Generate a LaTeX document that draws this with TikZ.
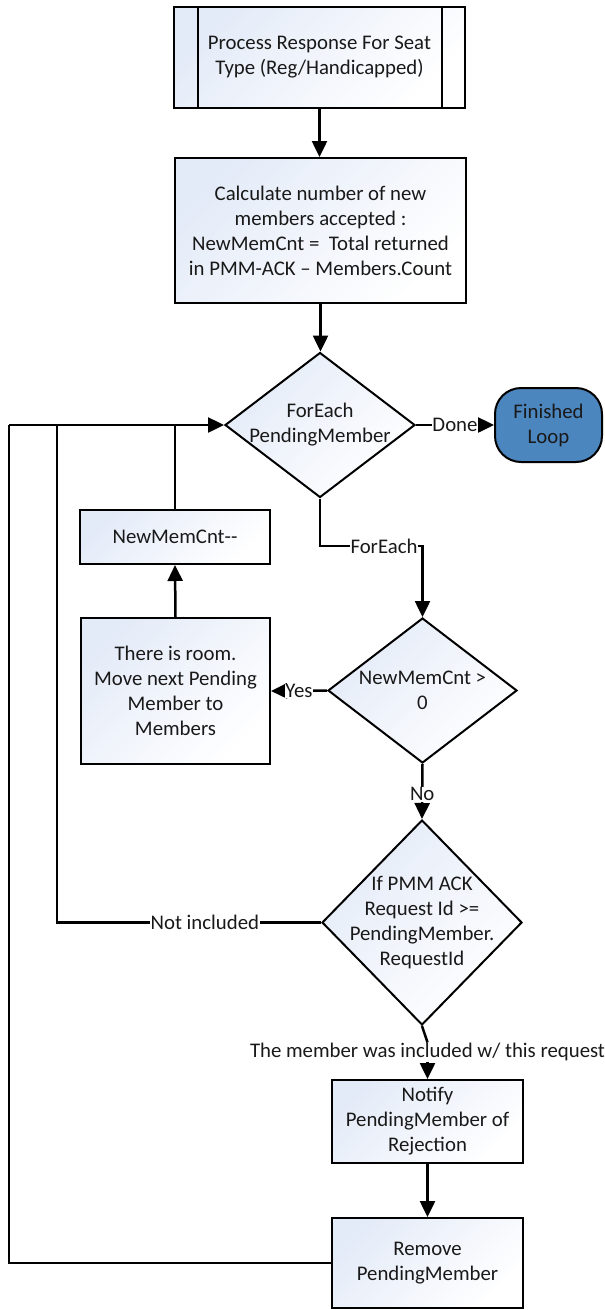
\documentclass[tikz,border=0pt]{standalone}
\usepackage{fontspec}
\setmainfont{Carlito}
\usetikzlibrary{arrows.meta,shapes.geometric}
\definecolor{boxfill}{RGB}{228,235,248}
\definecolor{endfill}{RGB}{76,134,190}
\definecolor{txtcol}{RGB}{25,25,25}
\tikzset{
  txt/.style={font=\fontsize{20.8}{25}\selectfont, align=center, text=txtcol},
  procbox/.style={txt, draw=black, line width=2pt, top color=boxfill, bottom color=white, shading angle=45, inner sep=2pt},
  decision/.style={diamond, draw=black, line width=2pt, top color=boxfill, bottom color=white, shading angle=45, inner sep=0pt, aspect=1},
  terminal/.style={txt, draw=black, line width=2pt, fill=endfill, rounded corners=26pt, inner sep=2pt},
  conn/.style={draw=black, line width=2.5pt},
  arr/.style={-{Triangle[length=16pt,width=15pt]}},
  lab/.style={txt, fill=white, inner sep=0.5pt},
}
\begin{document}
\begin{tikzpicture}[x=1pt,y=-1pt]
\useasboundingbox (0,0) rectangle (605,1310);
% nodes
\node[procbox, minimum width=291pt, minimum height=101pt] (b1) at (319.5,57.5) {Process Response For Seat\\Type (Reg/Handicapped)};
\draw[line width=2pt] ([xshift=25pt]b1.north west) -- ([xshift=25pt]b1.south west);
\draw[line width=2pt] ([xshift=-24pt]b1.north east) -- ([xshift=-24pt]b1.south east);
\node[procbox, minimum width=291pt, minimum height=145pt] (b2) at (320.5,230.5) {Calculate number of new\\members accepted :\\NewMemCnt =\ \ Total returned\\in PMM-ACK -- Members.Count};
\node[decision, minimum width=190pt, minimum height=145pt] (d1) at (320,425) {};
\node[txt] at (d1) {ForEach\\PendingMember};
\node[terminal, minimum width=107pt, minimum height=74pt] (fin) at (548.5,425) {Finished\\Loop};
\node[procbox, minimum width=190pt, minimum height=54pt] (nmc) at (175,537) {NewMemCnt\mbox{-}\mbox{-}};
\node[procbox, minimum width=189pt, minimum height=146pt] (room) at (175.5,691) {There is room.\\Move next Pending\\Member to\\Members};
\node[decision, minimum width=189pt, minimum height=145pt] (d2) at (422.5,690.5) {};
\node[txt] at (d2) {NewMemCnt >\\0};
\node[decision, minimum width=200pt, minimum height=205pt] (d3) at (422,922.5) {};
\node[txt] at (d3) {If PMM ACK\\Request Id >=\\PendingMember.\\RequestId};
\node[procbox, minimum width=191pt, minimum height=83pt] (notify) at (427.5,1121.5) {Notify\\PendingMember of\\Rejection};
\node[procbox, minimum width=191pt, minimum height=90pt] (remove) at (427.5,1263) {Remove\\PendingMember};
% helper coordinates
\coordinate (lt) at (9,425);
\coordinate (lt2) at (57,425);
\coordinate (fe) at (422.5,546);
% connectors
\draw[conn,arr] (b1.south) -- (b1.south |- b2.north);
\draw[conn,arr] (b2.south) -- (b2.south |- d1.north);
\draw[conn,arr] (d1.east) -- node[lab]{Done} (fin.west);
\draw[conn,arr] (d1.south) |- (fe) -- (d2.north);
\node[lab] at (384,546) {ForEach};
\draw[conn,arr] (d2.west) -- node[lab,pos=0.5]{Yes} (room.east);
\draw[conn,arr] (room.north) -- (nmc.south);
\draw[conn] (nmc.north) -- (nmc.north |- d1.west);
\draw[conn,arr] (d2.south) -- node[lab,pos=0.55]{No} (d3.north);
\draw[conn] (d3.west) -| node[lab,pos=0.22]{Not included} (lt2);
\node[lab] (mlab) at (427.5,1052) {The member was included w/ this request};
\draw[conn] (d3.south) -- (mlab.north);
\draw[conn,arr] (mlab.south) -- (notify.north);
\draw[conn,arr] (notify.south) -- (remove.north);
\draw[conn] (remove.west) -| (lt);
\draw[conn,arr] (lt) -- (d1.west);
\end{tikzpicture}
\end{document}
